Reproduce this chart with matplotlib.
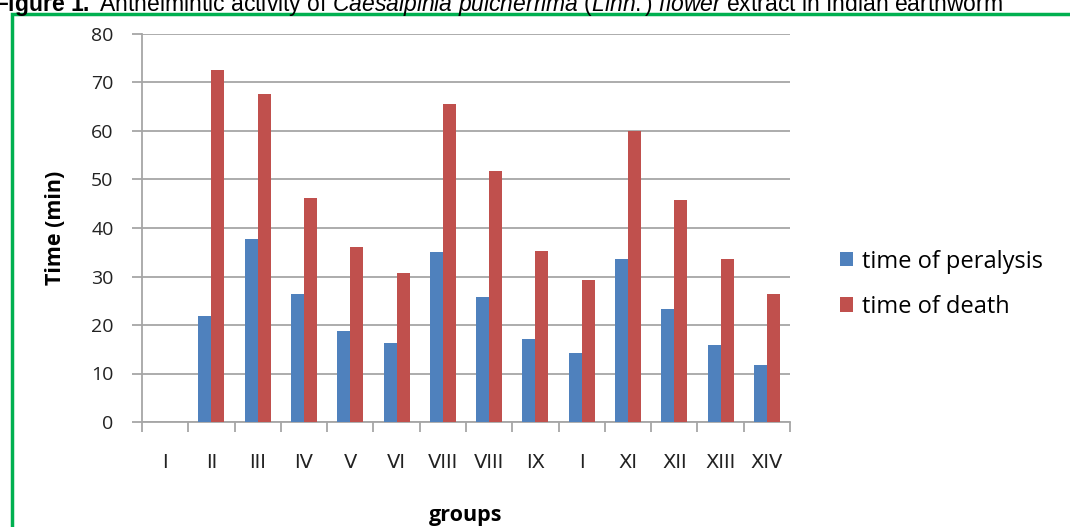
import numpy as np
import matplotlib
matplotlib.use("Agg")
import matplotlib.pyplot as plt
from matplotlib.patches import Rectangle

# data
groups = ["I", "II", "III", "IV", "V", "VI", "VIII", "VIII", "IX", "I",
          "XI", "XII", "XIII", "XIV"]
paralysis = [0, 21.8, 37.7, 26.4, 18.8, 16.3, 35.0, 25.8, 17.1, 14.2,
             33.7, 23.3, 15.9, 11.8]
death = [0, 72.6, 67.6, 46.2, 36.1, 30.7, 65.6, 51.7, 35.3, 29.3,
         60.1, 45.7, 33.7, 26.3]
yticks = [0, 10, 20, 30, 40, 50, 60, 70, 80]

blue = "#4f81bd"
red = "#c0504d"
grid_gray = "#a6a6a6"

plt.rcParams["mathtext.fontset"] = "custom"
plt.rcParams["mathtext.it"] = "Liberation Sans:italic"
plt.rcParams["mathtext.rm"] = "Liberation Sans"
plt.rcParams["mathtext.bf"] = "Liberation Sans:bold"

fig = plt.figure(figsize=(10.7, 5.27), dpi=100)
ax = fig.add_axes([142 / 1070, 1 - 422 / 527, 648 / 1070, 388 / 527])

x = np.arange(len(groups))
w = 0.28
ax.bar(x - w / 2, paralysis, w, color=blue, label="time of peralysis", zorder=3)
ax.bar(x + w / 2, death, w, color=red, label="time of death", zorder=3)

ax.set_xlim(-0.5, len(groups) - 0.5)
ax.set_ylim(0, 80)
ax.set_yticks(yticks)
ax.yaxis.grid(True, color=grid_gray, linewidth=1.3, zorder=0)

for s in ["top", "right"]:
    ax.spines[s].set_visible(False)
for s in ["left", "bottom"]:
    ax.spines[s].set_color(grid_gray)
    ax.spines[s].set_linewidth(1.3)

# category ticks sit between groups
ax.set_xticks(np.arange(-0.5, len(groups) + 0.5, 1), minor=False)
ax.set_xticklabels([])
ax.set_xticks(x, minor=True)
ax.set_xticklabels(groups, minor=True, fontsize=14, color="#222222")
ax.tick_params(axis="x", which="major", length=7, color=grid_gray, width=1.3)
ax.tick_params(axis="x", which="minor", length=0, pad=22)
ax.tick_params(axis="y", length=7.5, color=grid_gray, width=1.3, labelsize=14,
               pad=13, labelcolor="#222222")
for lb in ax.get_yticklabels():
    lb.set_family("Open Sans")

ax.set_ylabel("Time (min)", fontsize=15.5, fontweight="bold", family="Open Sans",
              labelpad=18)
ax.set_xlabel("groups", fontsize=15.5, fontweight="bold", family="Open Sans",
              labelpad=24)

leg = ax.legend(loc="center left", bbox_to_anchor=(1.045, 0.355), frameon=False,
                handlelength=0.55, handleheight=0.55, handletextpad=0.35,
                labelspacing=0.9, prop={"family": "Open Sans", "size": 17})

# green frame around the figure
fig.patches.append(Rectangle((12 / 1070, -0.05), 1.1, 1 - 14 / 527 + 0.05,
                             transform=fig.transFigure, fill=False,
                             edgecolor="#00b050", linewidth=2.5))

# caption, partly cut off at the top of the image as in the reference
fig.text(-6 / 1070, 1 - 11 / 527,
         "$\\bf{Figure\\ 1.}$ Anthelmintic activity of $\\it{Caesalpinia\\ pulcherrima\\ (Linn.)\\ flower}$ extract in Indian earthworm",
         fontsize=16.5, family="Liberation Sans", va="baseline", ha="left")

fig.savefig("out.png", dpi=100)
